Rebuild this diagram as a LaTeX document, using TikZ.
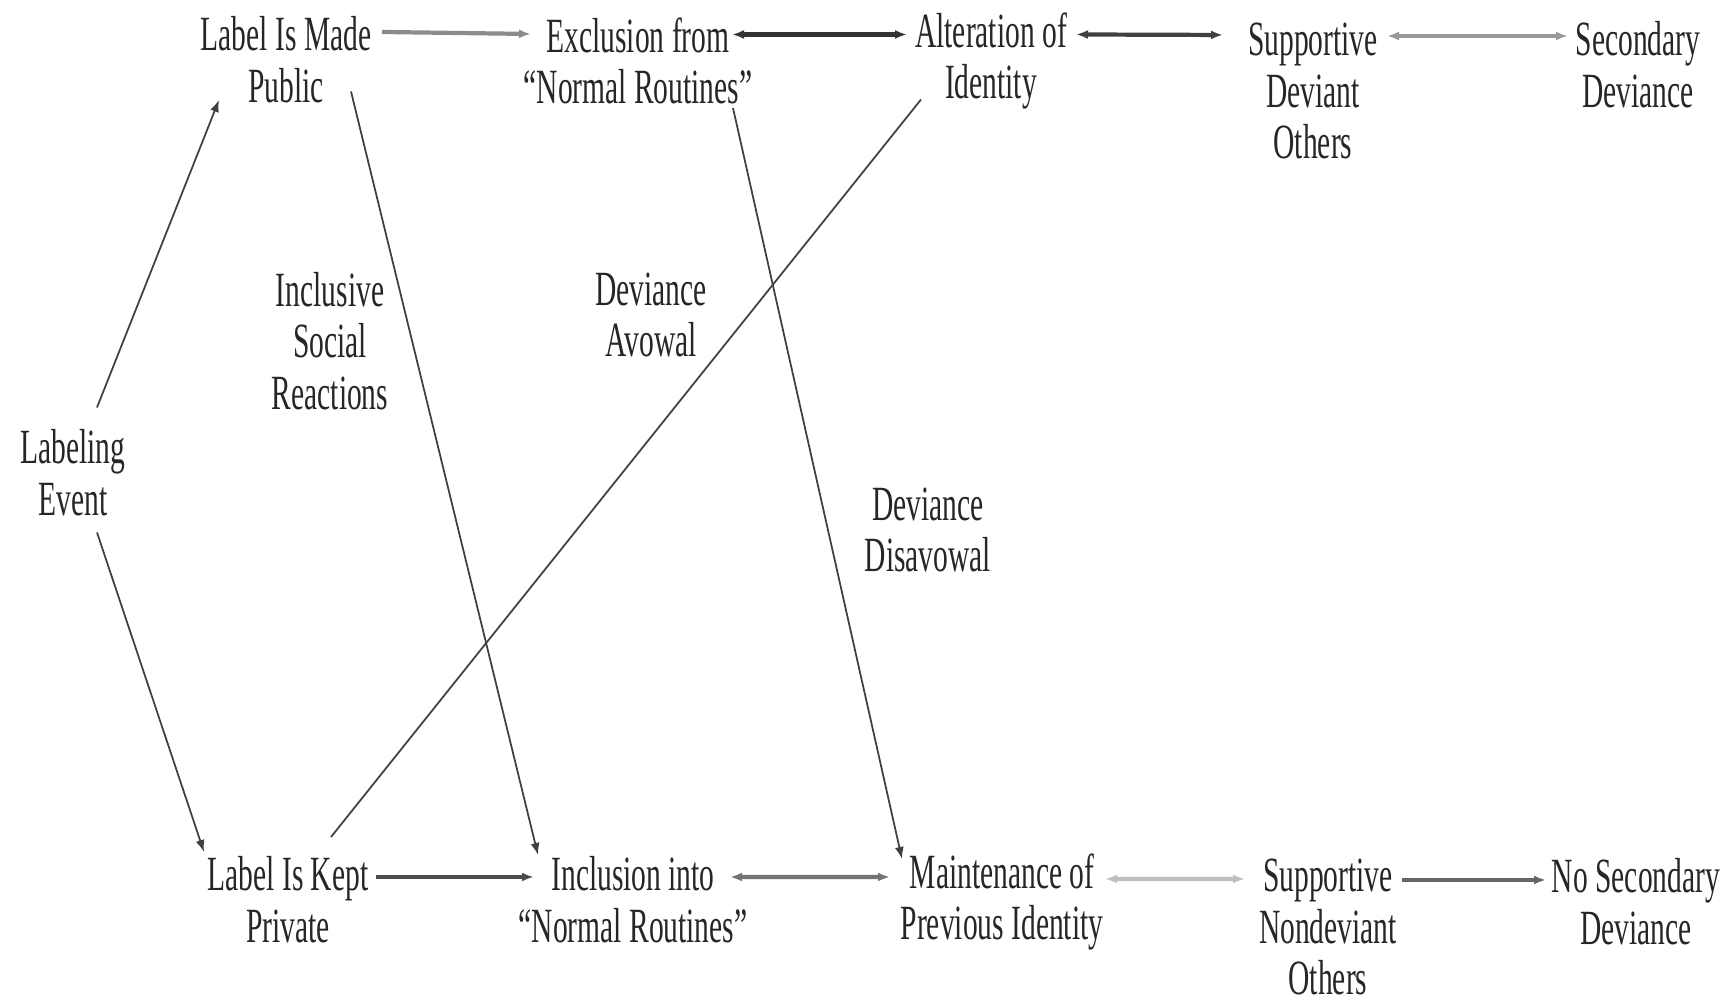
\documentclass[tikz,border=0pt]{standalone}
\usepackage{fontspec}
\setmainfont{Liberation Serif}[FakeStretch=0.6]
\usetikzlibrary{arrows.meta}

\begin{document}
\begin{tikzpicture}[> = {Latex[length=1.2mm,width=0.9mm]}]

\tikzset{stage/.style = {align=center, inner sep=0pt, text=black!85, font=\fontsize{14}{14.7}\selectfont}}
\tikzset{link/.style = {draw=black!75, line width=0.5pt}}
\tikzset{flow/.style = {line width=1.2pt}}
\useasboundingbox (0,0) rectangle (17.31,10.03);
% stages
\node[stage] (labeling)    at (0.73,5.30)  {Labeling\\Event};
\node[stage] (public)      at (2.86,9.43)  {Label Is Made\\Public};
\node[stage] (exclusion)   at (6.38,9.42)  {Exclusion from\\``Normal Routines''};
\node[stage] (alteration)  at (9.91,9.42)  {Alteration of\\Identity};
\node[stage] (supdev)      at (13.13,9.12) {Supportive\\Deviant\\Others};
\node[stage] (secondary)   at (16.38,9.38) {Secondary\\Deviance};
\node[stage] (private)     at (2.88,1.03)  {Label Is Kept\\Private};
\node[stage] (inclusion)   at (6.33,1.03)  {Inclusion into\\``Normal Routines''};
\node[stage] (maintenance) at (10.02,1.01) {Maintenance of\\Previous Identity};
\node[stage] (supnondev)   at (13.28,0.76) {Supportive\\Nondeviant\\Others};
\node[stage] (nosecondary) at (16.36,1.01) {No Secondary\\Deviance};
% reactions
\node[stage] (inclusive)   at (3.30,6.62)  {Inclusive\\Social\\Reactions};
\node[stage] (avowal)      at (6.51,6.88)  {Deviance\\Avowal};
\node[stage] (disavowal)   at (9.28,4.73)  {Deviance\\Disavowal};
%edges
\draw[link,->] ([shift={(0.24,0.655)}]labeling.center) -- ([shift={(-0.67,-0.40)}]public.center);
\draw[link,->] ([shift={(0.24,-0.595)}]labeling.center) -- ([shift={(-0.84,0.48)}]private.center);
\draw[link,->] ([shift={(0.65,-0.315)}]public.center) -- ([shift={(-0.95,0.45)}]inclusion.center);
\draw[link,->] ([shift={(0.95,-0.47)}]exclusion.center) -- ([shift={(-1.00,0.43)}]maintenance.center);
\draw[link] ([shift={(0.43,0.63)}]private.center) -- ([shift={(-0.70,-0.385)}]alteration.center);
% top row
\draw[flow,draw=black!45,->] ([shift={(0.96,0.28)}]public.center) -- ([shift={(-1.07,0.27)}]exclusion.center);
\draw[flow,draw=black!80,<->] ([shift={(0.94,0.265)}]exclusion.center) -- ([shift={(-0.84,0.265)}]alteration.center);
\draw[flow,draw=black!75,<->] ([shift={(0.85,0.265)}]alteration.center) -- ([shift={(-0.90,0.56)}]supdev.center);
\draw[flow,draw=black!40,<->] ([shift={(0.74,0.55)}]supdev.center) -- ([shift={(-0.70,0.29)}]secondary.center);
% bottom row
\draw[flow,draw=black!70,->] ([shift={(0.88,0.23)}]private.center) -- ([shift={(-0.99,0.23)}]inclusion.center);
\draw[flow,draw=black!55,<->] ([shift={(0.97,0.23)}]inclusion.center) -- ([shift={(-1.12,0.25)}]maintenance.center);
\draw[flow,draw=black!25,<->] ([shift={(1.03,0.23)}]maintenance.center) -- ([shift={(-0.83,0.48)}]supnondev.center);
\draw[flow,draw=black!60,->] ([shift={(0.74,0.47)}]supnondev.center) -- ([shift={(-0.90,0.22)}]nosecondary.center);
\end{tikzpicture}
\end{document}
